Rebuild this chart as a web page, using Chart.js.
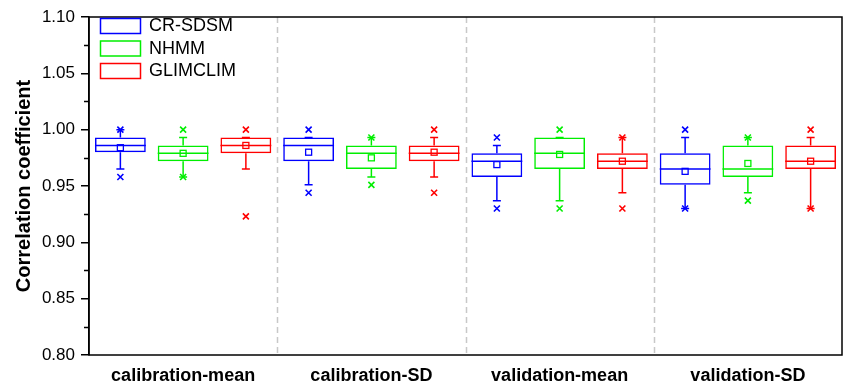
<!DOCTYPE html>
<html>
<head>
<meta charset="utf-8">
<script src="https://cdn.jsdelivr.net/npm/chart.js@4"></script>
<style>
  html, body { margin: 0; padding: 0; background: #fff; }
  #wrap { width: 845px; height: 388px; }
</style>
</head>
<body>
<div id="wrap"><canvas id="c" width="845" height="388"></canvas></div>
<script>
const categories = ['calibration-mean', 'calibration-SD', 'validation-mean', 'validation-SD'];
const seriesNames = ['CR-SDSM', 'NHMM', 'GLIMCLIM'];
const seriesColors = ['#0000ff', '#00ee00', '#ff0000'];
const yTickMin = 0.80, yTickMax = 1.10, yTickStep = 0.05;

// CR-SDSM
const crMin   = [0.958, 0.944, 0.930, 0.930];
const crWLo   = [0.965, 0.951, 0.937, 0.930];
const crQ1    = [0.980, 0.972, 0.958, 0.951];
const crMed   = [0.986, 0.986, 0.972, 0.965];
const crQ3    = [0.993, 0.993, 0.979, 0.979];
const crWHi   = [1.000, 0.993, 0.986, 0.993];
const crMax   = [1.000, 1.000, 0.993, 1.000];
const crMean  = [0.984, 0.980, 0.969, 0.963];
// NHMM
const nhMin   = [0.958, 0.951, 0.930, 0.937];
const nhWLo   = [0.958, 0.958, 0.937, 0.944];
const nhQ1    = [0.972, 0.965, 0.965, 0.958];
const nhMed   = [0.979, 0.979, 0.979, 0.965];
const nhQ3    = [0.986, 0.986, 0.993, 0.986];
const nhWHi   = [0.993, 0.993, 0.993, 0.993];
const nhMax   = [1.000, 0.993, 1.000, 0.993];
const nhMean  = [0.979, 0.975, 0.978, 0.970];
// GLIMCLIM
const glMin   = [0.923, 0.944, 0.930, 0.930];
const glWLo   = [0.965, 0.958, 0.944, 0.930];
const glQ1    = [0.979, 0.972, 0.965, 0.965];
const glMed   = [0.986, 0.979, 0.972, 0.972];
const glQ3    = [0.993, 0.986, 0.979, 0.986];
const glWHi   = [0.993, 0.993, 0.993, 0.993];
const glMax   = [1.000, 1.000, 0.993, 1.000];
const glMean  = [0.986, 0.980, 0.972, 0.972];

const stats = [
  {min: crMin, wlo: crWLo, q1: crQ1, med: crMed, q3: crQ3, whi: crWHi, max: crMax, mean: crMean},
  {min: nhMin, wlo: nhWLo, q1: nhQ1, med: nhMed, q3: nhQ3, whi: nhWHi, max: nhMax, mean: nhMean},
  {min: glMin, wlo: glWLo, q1: glQ1, med: glMed, q3: glQ3, whi: glWHi, max: glMax, mean: glMean}
];

const datasets = seriesNames.map((name, s) => ({
  label: name,
  data: categories.map((c, i) => [stats[s].q1[i], stats[s].q3[i]]),
  backgroundColor: 'rgba(0,0,0,0)',
  borderColor: seriesColors[s],
  borderWidth: 1.5,
  borderSkipped: false,
  barPercentage: 0.81,
  categoryPercentage: 1.0
}));

const boxPlugin = {
  id: 'boxExtras',
  afterDatasetsDraw(chart) {
    const ctx = chart.ctx;
    const y = chart.scales.y;
    const x = chart.scales.x;
    const area = chart.chartArea;
    ctx.save();
    // dashed category dividers
    ctx.strokeStyle = '#c8c8c8';
    ctx.lineWidth = 1.5;
    ctx.setLineDash([6, 4]);
    for (let i = 0; i < categories.length - 1; i++) {
      const px = Math.round((x.getPixelForValue(i) + x.getPixelForValue(i + 1)) / 2) + 0.5;
      ctx.beginPath();
      ctx.moveTo(px, area.top);
      ctx.lineTo(px, area.bottom);
      ctx.stroke();
    }
    ctx.setLineDash([]);
    chart.data.datasets.forEach((ds, s) => {
      const meta = chart.getDatasetMeta(s);
      const st = stats[s];
      ctx.strokeStyle = seriesColors[s];
      ctx.lineWidth = 1.5;
      meta.data.forEach((el, i) => {
        const cx = el.x;
        const hw = el.width / 2;
        const yMed = y.getPixelForValue(st.med[i]);
        const yQ1 = y.getPixelForValue(st.q1[i]);
        const yQ3 = y.getPixelForValue(st.q3[i]);
        const yLo = y.getPixelForValue(st.wlo[i]);
        const yHi = y.getPixelForValue(st.whi[i]);
        ctx.beginPath();
        // median
        ctx.moveTo(cx - hw, yMed); ctx.lineTo(cx + hw, yMed);
        // whiskers
        ctx.moveTo(cx, yQ3); ctx.lineTo(cx, yHi);
        ctx.moveTo(cx, yQ1); ctx.lineTo(cx, yLo);
        // caps
        ctx.moveTo(cx - 4, yHi); ctx.lineTo(cx + 4, yHi);
        ctx.moveTo(cx - 4, yLo); ctx.lineTo(cx + 4, yLo);
        ctx.stroke();
        // mean square
        const yMean = y.getPixelForValue(st.mean[i]);
        ctx.lineWidth = 1.3;
        ctx.strokeRect(cx - 3, yMean - 3, 6, 6);
        ctx.lineWidth = 1.6;
        // x markers for min & max
        [st.min[i], st.max[i]].forEach(v => {
          const py = y.getPixelForValue(v);
          ctx.beginPath();
          ctx.moveTo(cx - 3, py - 3); ctx.lineTo(cx + 3, py + 3);
          ctx.moveTo(cx + 3, py - 3); ctx.lineTo(cx - 3, py + 3);
          ctx.stroke();
        });
        ctx.lineWidth = 1.5;
      });
    });
    // frame
    ctx.strokeStyle = '#000';
    ctx.lineWidth = 1.5;
    ctx.strokeRect(area.left, area.top, area.right - area.left, area.bottom - area.top);
    // minor ticks
    ctx.beginPath();
    for (let v = yTickMin + yTickStep / 2; v < yTickMax; v += yTickStep) {
      const py = Math.round(y.getPixelForValue(v)) + 0.5;
      ctx.moveTo(area.left - 5, py); ctx.lineTo(area.left, py);
    }
    ctx.stroke();
    // legend
    ctx.font = '18px "Liberation Sans", Arial, sans-serif';
    ctx.textBaseline = 'middle';
    ctx.textAlign = 'left';
    seriesNames.forEach((name, s) => {
      const top = 18.5 + s * 22.5;
      ctx.strokeStyle = seriesColors[s];
      ctx.lineWidth = 1.5;
      ctx.strokeRect(100.5, top, 40, 15);
      ctx.fillStyle = '#000';
      ctx.fillText(name, 149, top + 8);
    });
    ctx.restore();
  }
};

new Chart(document.getElementById('c'), {
  type: 'bar',
  data: { labels: categories, datasets },
  plugins: [boxPlugin],
  options: {
    responsive: false,
    animation: false,
    layout: { padding: { top: 17, right: 3, left: 0, bottom: 0 } },
    plugins: { legend: { display: false }, tooltip: { enabled: false } },
    scales: {
      x: {
        grid: { display: false, drawTicks: false },
        border: { display: false },
        ticks: {
          color: '#000',
          padding: 10,
          font: { family: '"Liberation Sans", Arial, sans-serif', size: 18, weight: 'bold' }
        },
        afterFit(scale) { scale.height = 33; }
      },
      y: {
        min: yTickMin,
        max: yTickMax,
        grid: { drawOnChartArea: false, tickLength: 8, color: '#000', lineWidth: 1.5 },
        border: { display: true, color: '#000', width: 1.5 },
        ticks: {
          stepSize: yTickStep,
          color: '#000',
          padding: 6,
          font: { family: '"Liberation Sans", Arial, sans-serif', size: 17 },
          callback: v => Number(v).toFixed(2)
        },
        title: {
          display: true,
          text: 'Correlation coefficient',
          color: '#000',
          padding: { top: 12, bottom: 0 },
          font: { family: '"Liberation Sans", Arial, sans-serif', size: 20, weight: 'bold' }
        },
        afterFit(scale) { scale.width = 89; }
      }
    }
  }
});
</script>
</body>
</html>
